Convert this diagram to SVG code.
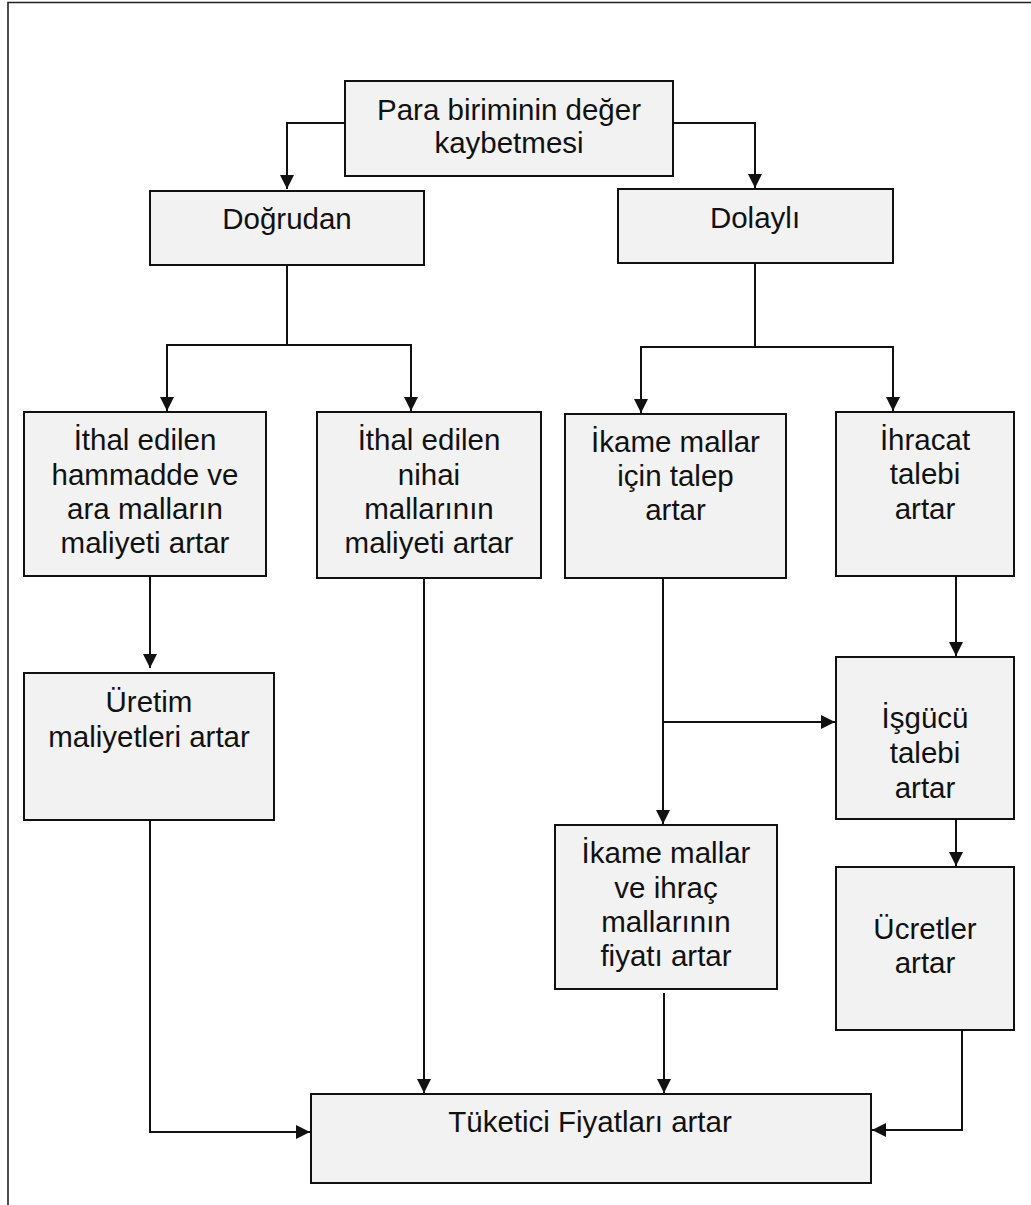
<svg xmlns="http://www.w3.org/2000/svg" width="1031" height="1205" viewBox="0 0 1031 1205">
<style>
.box{fill:#f2f2f2;stroke:#111;stroke-width:2}
.t{font-family:"Liberation Sans",Arial,sans-serif;font-size:29.5px;fill:#111;text-anchor:middle}
.c{fill:none;stroke:#111;stroke-width:2}
</style>
<defs>
<marker id="ah" viewBox="0 0 14 14" refX="14" refY="7" markerWidth="14" markerHeight="14" markerUnits="userSpaceOnUse" orient="auto">
<path d="M0,0 L14,7 L0,14 Z" fill="#111"/>
</marker>
</defs>
<rect width="1031" height="1205" fill="#fff"/>
<path d="M8,1205 V2.5 H1031" fill="none" stroke="#222" stroke-width="1.6"/>

<g id="connectors">
<path class="c" d="M345,123 H287 V189" marker-end="url(#ah)"/>
<path class="c" d="M673,123 H755 V188" marker-end="url(#ah)"/>
<path class="c" d="M287,265 V345"/>
<path class="c" d="M287,345 H167 V411" marker-end="url(#ah)"/>
<path class="c" d="M287,345 H411 V411" marker-end="url(#ah)"/>
<path class="c" d="M755,263 V347"/>
<path class="c" d="M755,347 H641 V413" marker-end="url(#ah)"/>
<path class="c" d="M755,347 H893 V411" marker-end="url(#ah)"/>
<path class="c" d="M150,576 V668" marker-end="url(#ah)"/>
<path class="c" d="M424,578 V1093" marker-end="url(#ah)"/>
<path class="c" d="M150,820 V1132 H310" marker-end="url(#ah)"/>
<path class="c" d="M663,575 V824" marker-end="url(#ah)"/>
<path class="c" d="M663,722 H835" marker-end="url(#ah)"/>
<path class="c" d="M956,576 V656" marker-end="url(#ah)"/>
<path class="c" d="M956,819 V866" marker-end="url(#ah)"/>
<path class="c" d="M664,993 V1093" marker-end="url(#ah)"/>
<path class="c" d="M962,1030 V1130 H872" marker-end="url(#ah)"/>
</g>

<g id="n-para">
<rect class="box" x="345" y="81" width="328" height="95"/>
<text class="t" x="509" y="120">Para biriminin değer</text>
<text class="t" x="509" y="153">kaybetmesi</text>
</g>
<g id="n-dogrudan">
<rect class="box" x="150" y="191" width="274" height="74"/>
<text class="t" x="287" y="229">Doğrudan</text>
</g>
<g id="n-dolayli">
<rect class="box" x="618" y="189" width="275" height="74"/>
<text class="t" x="755" y="228">Dolaylı</text>
</g>
<g id="n-hammadde">
<rect class="box" x="24" y="412" width="242" height="164"/>
<text class="t" x="145" y="450">İthal edilen</text>
<text class="t" x="145" y="485">hammadde ve</text>
<text class="t" x="145" y="519">ara malların</text>
<text class="t" x="145" y="553">maliyeti artar</text>
</g>
<g id="n-nihai">
<rect class="box" x="317" y="412" width="224" height="166"/>
<text class="t" x="429" y="450">İthal edilen</text>
<text class="t" x="429" y="485">nihai</text>
<text class="t" x="429" y="519">mallarının</text>
<text class="t" x="429" y="553">maliyeti artar</text>
</g>
<g id="n-ikame">
<rect class="box" x="565" y="414" width="221" height="164"/>
<text class="t" x="675.5" y="452">İkame mallar</text>
<text class="t" x="675.5" y="486">için talep</text>
<text class="t" x="675.5" y="520">artar</text>
</g>
<g id="n-ihracat">
<rect class="box" x="836" y="412" width="178" height="164"/>
<text class="t" x="925" y="450">İhracat</text>
<text class="t" x="925" y="484">talebi</text>
<text class="t" x="925" y="519">artar</text>
</g>
<g id="n-uretim">
<rect class="box" x="24" y="673" width="250" height="147"/>
<text class="t" x="149" y="712">Üretim</text>
<text class="t" x="149" y="747">maliyetleri artar</text>
</g>
<g id="n-isgucu">
<rect class="box" x="836" y="657" width="178" height="162"/>
<text class="t" x="925" y="728">İşgücü</text>
<text class="t" x="925" y="763">talebi</text>
<text class="t" x="925" y="798">artar</text>
</g>
<g id="n-fiyat">
<rect class="box" x="555" y="825" width="222" height="164"/>
<text class="t" x="666" y="863">İkame mallar</text>
<text class="t" x="666" y="898">ve ihraç</text>
<text class="t" x="666" y="932">mallarının</text>
<text class="t" x="666" y="966">fiyatı artar</text>
</g>
<g id="n-ucret">
<rect class="box" x="836" y="867" width="178" height="163"/>
<text class="t" x="925" y="939">Ücretler</text>
<text class="t" x="925" y="973">artar</text>
</g>
<g id="n-tuketici">
<rect class="box" x="311" y="1094" width="560" height="89"/>
<text class="t" x="590" y="1132">Tüketici Fiyatları artar</text>
</g>
</svg>
